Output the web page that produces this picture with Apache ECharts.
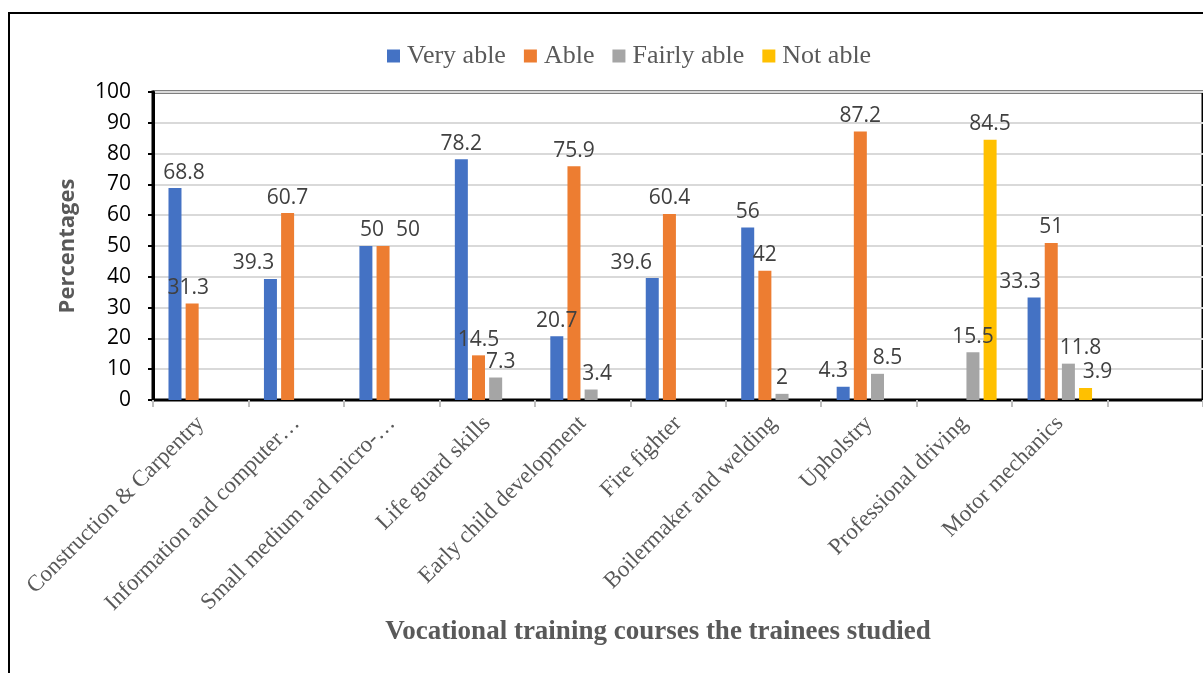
<!DOCTYPE html>
<html>
<head>
<meta charset="utf-8">
<script src="https://cdn.jsdelivr.net/npm/echarts@6/dist/echarts.min.js"></script>
<style>
  html, body { margin: 0; padding: 0; background: #fff; }
  #chart { width: 1203px; height: 673px; }
</style>
</head>
<body>
<div id="chart"></div>
<script>
// courses (last slot is an empty category, as in the original)
const courses = [
  'Construction & Carpentry',
  'Information and computer…',
  'Small medium and micro-…',
  'Life guard skills',
  'Early child development',
  'Fire fighter',
  'Boilermaker and welding',
  'Upholstry',
  'Professional driving',
  'Motor mechanics',
  ''
]
const veryAble   = [68.8, 39.3, 50, 78.2, 20.7, 39.6, 56, 4.3, null, 33.3, null]
const able       = [31.3, 60.7, 50, 14.5, 75.9, 60.4, 42, 87.2, null, 51, null]
const fairlyAble = [null, null, null, 7.3, 3.4, null, 2, 8.5, 15.5, 11.8, null]
const notAble    = [null, null, null, null, null, null, null, null, 84.5, 3.9, null]
const yTicks = [0, 10, 20, 30, 40, 50, 60, 70, 80, 90, 100]

// 标签水平微调 (像素), 原图中部分标签被手动挪过
const labelShift = {
  'Very able': { 0: 9, 1: -17, 2: 6, 5: -21, 7: -10, 9: -14 },
  'Able': { 0: -4, 2: 25 },
  'Fairly able': { 3: 5, 4: 6, 7: 10, 9: 12 },
  'Not able': { 9: 12 }
}

const chart = echarts.init(document.getElementById('chart'))

function bar(name, data, color) {
  const shift = labelShift[name] || {}
  return {
    name: name,
    type: 'bar',
    data: data.map((v, i) => {
      if (v === null) return null
      return { value: v, label: { offset: [shift[i] || 0, 0] } }
    }),
    barWidth: 13,
    barGap: '32%',
    barCategoryGap: '32%',
    itemStyle: { color: color },
    label: {
      show: true,
      position: 'top',
      distance: 5,
      color: '#404040',
      fontSize: 21,
      fontFamily: 'Open Sans'
    }
  }
}

const option = {
  animation: false,
  legend: {
    top: 38,
    left: 382,
    itemWidth: 13,
    itemHeight: 13,
    itemGap: 18,
    icon: 'rect',
    textStyle: {
      fontFamily: 'Liberation Serif',
      fontSize: 26,
      color: '#595959',
      padding: [0, 0, 0, 2]
    }
  },
  grid: {
    left: 153,
    top: 92,
    right: -10,
    bottom: 273,
    show: true,
    borderColor: '#000',
    borderWidth: 3
  },
  xAxis: {
    type: 'category',
    data: courses,
    axisLine: { lineStyle: { color: '#000', width: 2 } },
    axisTick: { show: true, length: 7, lineStyle: { color: '#bfbfbf', width: 2 } },
    axisLabel: {
      rotate: 45,
      interval: 0,
      margin: 20,
      fontFamily: 'Liberation Serif',
      fontSize: 23,
      color: '#595959'
    }
  },
  yAxis: {
    type: 'value',
    min: 0,
    max: 100,
    interval: 10,
    name: 'Percentages',
    nameLocation: 'middle',
    nameGap: 74,
    nameTextStyle: {
      fontFamily: 'Open Sans',
      fontWeight: 'bold',
      fontSize: 22,
      color: '#595959'
    },
    axisLine: { show: true, lineStyle: { color: '#000', width: 3 } },
    axisTick: { show: true, inside: false, length: 5, lineStyle: { color: '#000', width: 2 } },
    axisLabel: {
      margin: 22,
      fontFamily: 'Open Sans',
      fontSize: 21,
      color: '#000',
      formatter: v => yTicks.includes(v) ? String(v) : ''
    },
    splitLine: { lineStyle: { color: '#d9d9d9', width: 2 } }
  },
  graphic: [
    {
      type: 'rect',
      shape: { x: 9, y: 13, width: 1300, height: 720 },
      style: { fill: 'none', stroke: '#000', lineWidth: 2 },
      z: -1
    },
    {
      type: 'text',
      x: 658,
      y: 632,
      style: {
        text: 'Vocational training courses the trainees studied',
        textAlign: 'center',
        textVerticalAlign: 'middle',
        fontFamily: 'Liberation Serif',
        fontWeight: 'bold',
        fontSize: 27,
        fill: '#595959'
      }
    }
  ],
  series: [
    bar('Very able', veryAble, '#4472C4'),
    bar('Able', able, '#ED7D31'),
    bar('Fairly able', fairlyAble, '#A5A5A5'),
    bar('Not able', notAble, '#FFC000')
  ]
}
chart.setOption(option)
</script>
</body>
</html>
